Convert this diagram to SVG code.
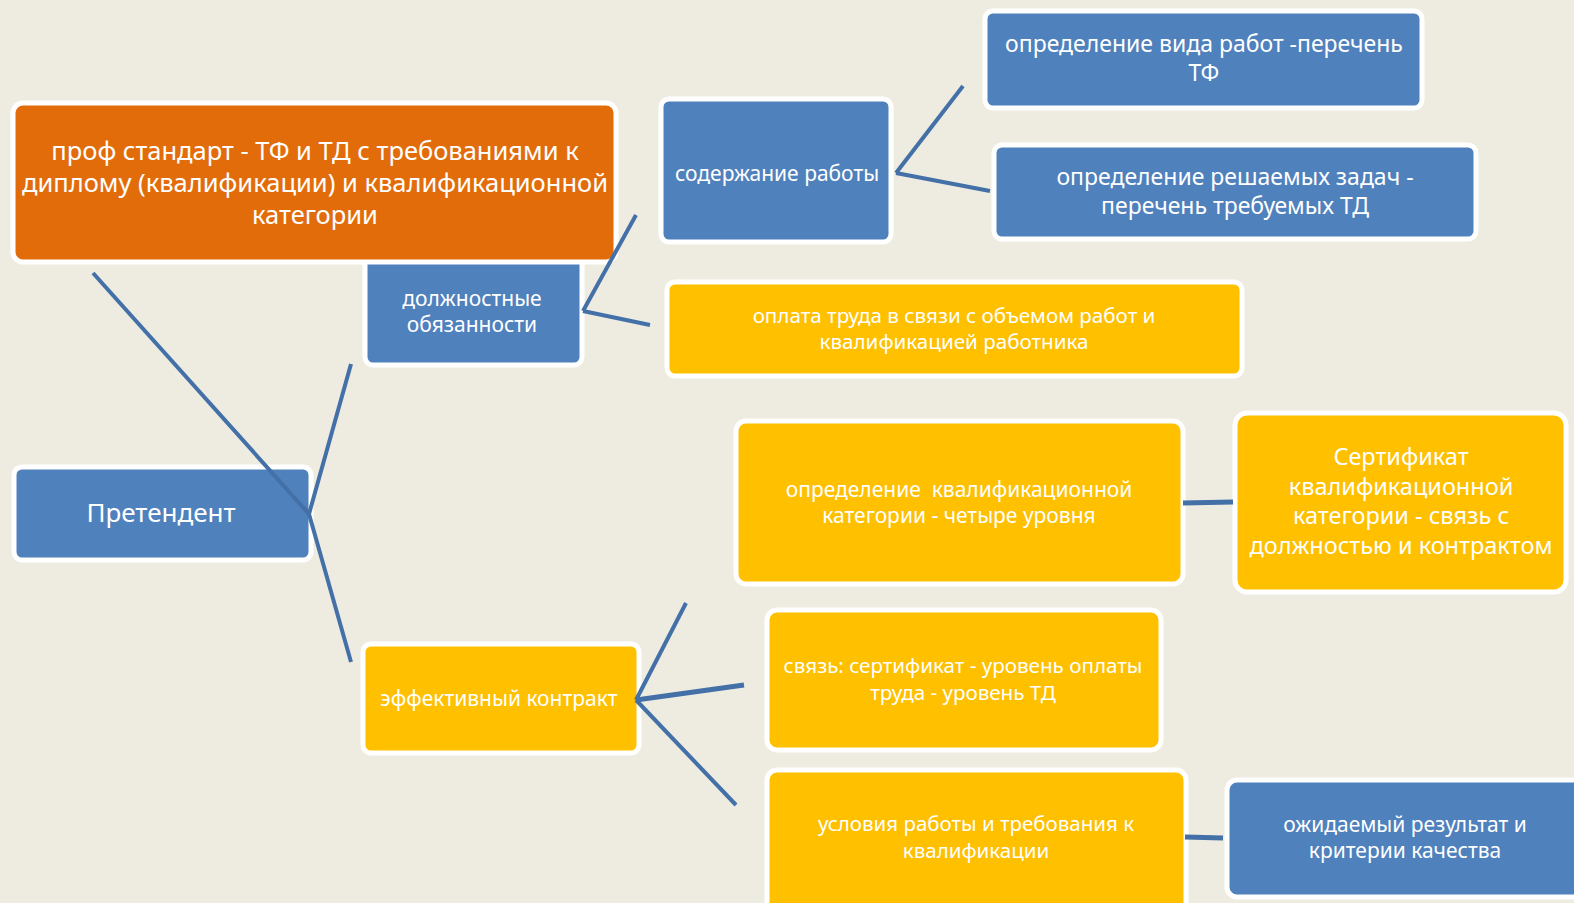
<svg xmlns="http://www.w3.org/2000/svg" width="1574" height="903" viewBox="0 0 1574 903">
<style>
.bg{fill:#EEECE1}
.box{stroke:#FFFFFF;stroke-width:5}
.blue{fill:#4F81BD}
.orange{fill:#E36C0A}
.yellow{fill:#FFC000}
text{font-family:"Noto Sans","Open Sans",sans-serif;fill:#FFFFFF;text-anchor:middle}
.con line{stroke:#4470A8;stroke-width:4;stroke-linecap:butt}
</style>
<rect class="bg" x="0" y="0" width="1574" height="903"/>
<g id="n-dolzh">
<rect class="box blue" x="365" y="240" width="217" height="125" rx="8"/>
<text font-size="21"><tspan x="472" y="306">должностные</tspan><tspan x="472" y="332">обязанности</tspan></text>
</g>
<g id="n-prof">
<rect class="box orange" x="13" y="103" width="603" height="159" rx="10"/>
<text font-size="25.5"><tspan x="315" y="160">проф стандарт - ТФ и ТД с требованиями к</tspan><tspan x="315" y="192">диплому (квалификации) и квалификационной</tspan><tspan x="315" y="224">категории</tspan></text>
</g>
<g id="n-soder">
<rect class="box blue" x="661" y="99" width="230" height="143" rx="8"/>
<text font-size="21"><tspan x="777" y="181">содержание работы</tspan></text>
</g>
<g id="n-vid">
<rect class="box blue" x="985" y="11" width="437" height="97" rx="8"/>
<text font-size="23"><tspan x="1204" y="52">определение вида работ -перечень</tspan><tspan x="1204" y="81">ТФ</tspan></text>
</g>
<g id="n-zadach">
<rect class="box blue" x="994" y="145" width="482" height="94" rx="8"/>
<text font-size="23"><tspan x="1235" y="185">определение решаемых задач -</tspan><tspan x="1235" y="214">перечень требуемых ТД</tspan></text>
</g>
<g id="n-oplata">
<rect class="box yellow" x="667" y="282" width="575" height="94" rx="8"/>
<text font-size="20.6"><tspan x="954" y="323">оплата труда в связи с объемом работ и</tspan><tspan x="954" y="349">квалификацией работника</tspan></text>
</g>
<g id="n-kateg">
<rect class="box yellow" x="736" y="421" width="447" height="163" rx="10"/>
<text font-size="21"><tspan x="959" y="497" xml:space="preserve">определение  квалификационной</tspan><tspan x="959" y="523">категории - четыре уровня</tspan></text>
</g>
<g id="n-sert">
<rect class="box yellow" x="1235" y="413" width="331" height="179" rx="12"/>
<text font-size="23.5"><tspan x="1401" y="465">Сертификат</tspan><tspan x="1401" y="495">квалификационной</tspan><tspan x="1401" y="524">категории - связь с</tspan><tspan x="1401" y="554">должностью и контрактом</tspan></text>
</g>
<g id="n-pret">
<rect class="box blue" x="14" y="467" width="297" height="93" rx="8"/>
<text font-size="26"><tspan x="161" y="522">Претендент</tspan></text>
</g>
<g id="n-effekt">
<rect class="box yellow" x="363" y="644" width="276" height="109" rx="8"/>
<text font-size="21"><tspan x="499" y="706">эффективный контракт</tspan></text>
</g>
<g id="n-svyaz">
<rect class="box yellow" x="767" y="610" width="394" height="140" rx="10"/>
<text font-size="20.6"><tspan x="963" y="673">связь: сертификат - уровень оплаты</tspan><tspan x="963" y="700">труда - уровень ТД</tspan></text>
</g>
<g id="n-usl">
<rect class="box yellow" x="767" y="770" width="419" height="150" rx="10"/>
<text font-size="20.5"><tspan x="976" y="831">условия работы и требования к</tspan><tspan x="976" y="858">квалификации</tspan></text>
</g>
<g id="n-ozhid">
<rect class="box blue" x="1227" y="780" width="360" height="117" rx="10"/>
<text font-size="21"><tspan x="1405" y="832">ожидаемый результат и</tspan><tspan x="1405" y="858">критерии качества</tspan></text>
</g>
<g id="connectors" class="con">
<line x1="93" y1="273" x2="309" y2="514"/>
<line x1="309" y1="514" x2="351" y2="364"/>
<line x1="309" y1="514" x2="351" y2="662"/>
<line x1="583" y1="311" x2="636" y2="215"/>
<line x1="583" y1="311" x2="650" y2="325"/>
<line x1="896" y1="173" x2="963" y2="86"/>
<line x1="896" y1="173" x2="990" y2="191"/>
<line x1="1183" y1="503" x2="1233" y2="502" style="stroke-width:5"/>
<line x1="636" y1="700" x2="686" y2="603"/>
<line x1="636" y1="700" x2="744" y2="685" style="stroke-width:5"/>
<line x1="636" y1="700" x2="736" y2="805"/>
<line x1="1185" y1="837" x2="1223" y2="838" style="stroke-width:5"/>
</g>
</svg>
